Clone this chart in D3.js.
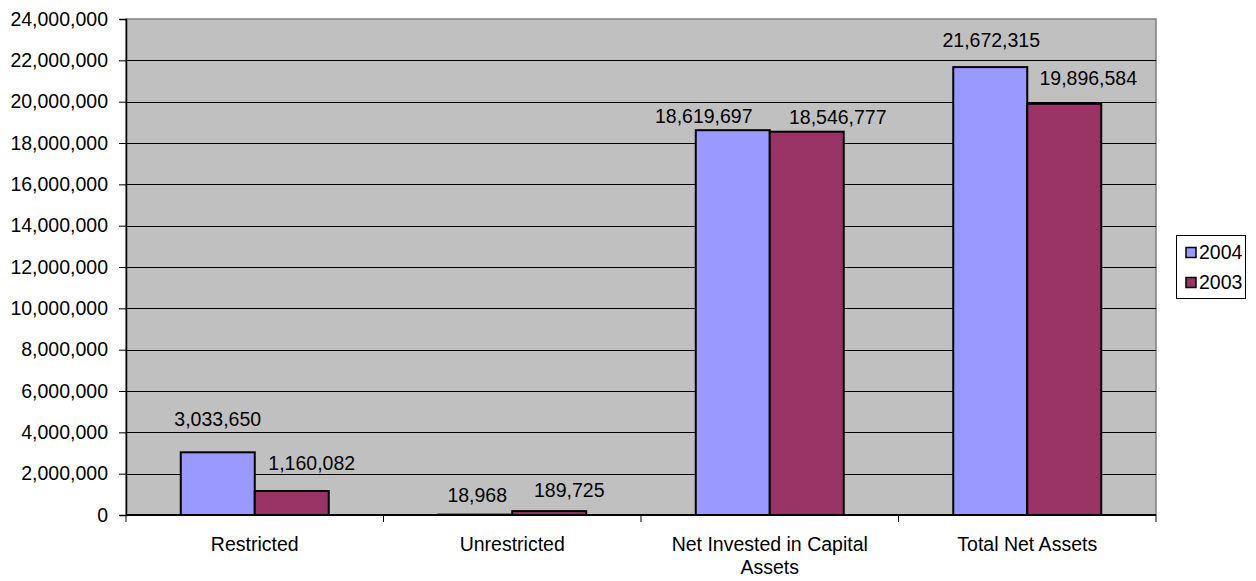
<!DOCTYPE html>
<html>
<head>
<meta charset="utf-8">
<script src="https://cdn.jsdelivr.net/npm/d3@7"></script>
<style>
  body { margin: 0; background: #fff; }
  svg text { font-family: "Liberation Sans", Arial, sans-serif; fill: #000; }
</style>
</head>
<body>
<svg id="chart" width="1256" height="581"></svg>
<script>
// data
const categories = ["Restricted", "Unrestricted", "Net Invested in Capital|Assets", "Total Net Assets"];
const seriesNames = ["2004", "2003"];
const values2004 = [3033650, 18968, 18619697, 21672315];
const values2003 = [1160082, 189725, 18546777, 19896584];
const yTicks = [0, 2000000, 4000000, 6000000, 8000000, 10000000, 12000000,
                14000000, 16000000, 18000000, 20000000, 22000000, 24000000];

// label nudges, like excel placed them
const labelDx = [[0, 2, -29, 1], [20, 20, 31, -1 + 25]];
const labelDy = [[-26, -13, -7, -20], [-21, -14, -8, -19]];

const colors = ["#9999FF", "#993366"];

const svg = d3.select("#chart");
const m = {left: 126, top: 19, right: 1156, bottom: 515};

const x = d3.scaleBand().domain(categories).range([m.left, m.right]);
const x1 = d3.scaleBand().domain(seriesNames).range([0, x.bandwidth()])
  .paddingOuter(0.74).paddingInner(0);
const y = d3.scaleLinear().domain([0, 24000000]).range([m.bottom, m.top]);

// plot background
svg.append("rect")
  .attr("x", m.left).attr("y", m.top)
  .attr("width", m.right - m.left).attr("height", m.bottom - m.top)
  .attr("fill", "#C0C0C0").attr("stroke", "#808080").attr("stroke-width", 1.5);

// gridlines
svg.append("g").selectAll("line")
  .data(yTicks.slice(1, -1))
  .enter().append("line")
  .attr("x1", m.left).attr("x2", m.right)
  .attr("y1", d => Math.round(y(d)) + 0.5).attr("y2", d => Math.round(y(d)) + 0.5)
  .attr("stroke", "#000").attr("stroke-width", 1);

// y axis
const yAxis = svg.append("g")
  .attr("transform", `translate(${m.left},0)`)
  .call(d3.axisLeft(y).tickValues(yTicks).tickSize(7).tickPadding(11)
    .tickFormat(d3.format(",")));
yAxis.select(".domain").attr("stroke", "#000").attr("stroke-width", 1.5);
yAxis.selectAll(".tick line").attr("stroke", "#000");
yAxis.selectAll(".tick text").attr("font-size", "19.5px")
  .attr("font-family", "Liberation Sans, Arial, sans-serif");

// bars
const data = [values2004, values2003];
data.forEach((vals, s) => {
  svg.append("g").selectAll("rect")
    .data(vals)
    .enter().append("rect")
    .attr("x", (d, i) => x(categories[i]) + x1(seriesNames[s]))
    .attr("y", d => y(d))
    .attr("width", x1.bandwidth())
    .attr("height", d => y(0) - y(d))
    .attr("fill", colors[s])
    .attr("stroke", "#000").attr("stroke-width", 2);
});

// x axis
const xAxis = svg.append("g")
  .attr("transform", `translate(0,${m.bottom})`);
xAxis.append("line")
  .attr("x1", m.left).attr("x2", m.right).attr("y1", 0).attr("y2", 0)
  .attr("stroke", "#000").attr("stroke-width", 2);
const bounds = categories.map(c => x(c)).concat([m.right]);
xAxis.selectAll("line.tk").data(bounds).enter().append("line")
  .attr("class", "tk")
  .attr("x1", d => d).attr("x2", d => d).attr("y1", 0).attr("y2", 7)
  .attr("stroke", "#000");
xAxis.selectAll("text.cat").data(categories).enter().append("text")
  .attr("class", "cat")
  .attr("text-anchor", "middle")
  .attr("font-size", "19.5px")
  .attr("x", d => x(d) + x.bandwidth() / 2)
  .attr("y", 36)
  .each(function(d) {
    const lines = d.split("|");
    d3.select(this).selectAll("tspan").data(lines).enter().append("tspan")
      .attr("x", x(d) + x.bandwidth() / 2)
      .attr("dy", (l, i) => i === 0 ? 0 : 22.5)
      .text(l => l);
  });

// value labels
data.forEach((vals, s) => {
  svg.append("g").selectAll("text")
    .data(vals)
    .enter().append("text")
    .attr("text-anchor", "middle")
    .attr("font-size", "19.5px")
    .attr("x", (d, i) => x(categories[i]) + x1(seriesNames[s]) + x1.bandwidth() / 2 + labelDx[s][i])
    .attr("y", (d, i) => y(d) + labelDy[s][i])
    .text(d => d3.format(",")(d));
});

// legend
const lg = svg.append("g");
lg.append("rect")
  .attr("x", 1176.5).attr("y", 235.5).attr("width", 69).attr("height", 63)
  .attr("fill", "#fff").attr("stroke", "#000").attr("stroke-width", 1);
seriesNames.forEach((n, i) => {
  lg.append("rect")
    .attr("x", 1186).attr("y", 247.5 + i * 30).attr("width", 10).attr("height", 10)
    .attr("fill", colors[i]).attr("stroke", "#000").attr("stroke-width", 1.5);
  lg.append("text")
    .attr("x", 1199).attr("y", 258.5 + i * 30)
    .attr("font-size", "19.5px")
    .text(n);
});
</script>
</body>
</html>
